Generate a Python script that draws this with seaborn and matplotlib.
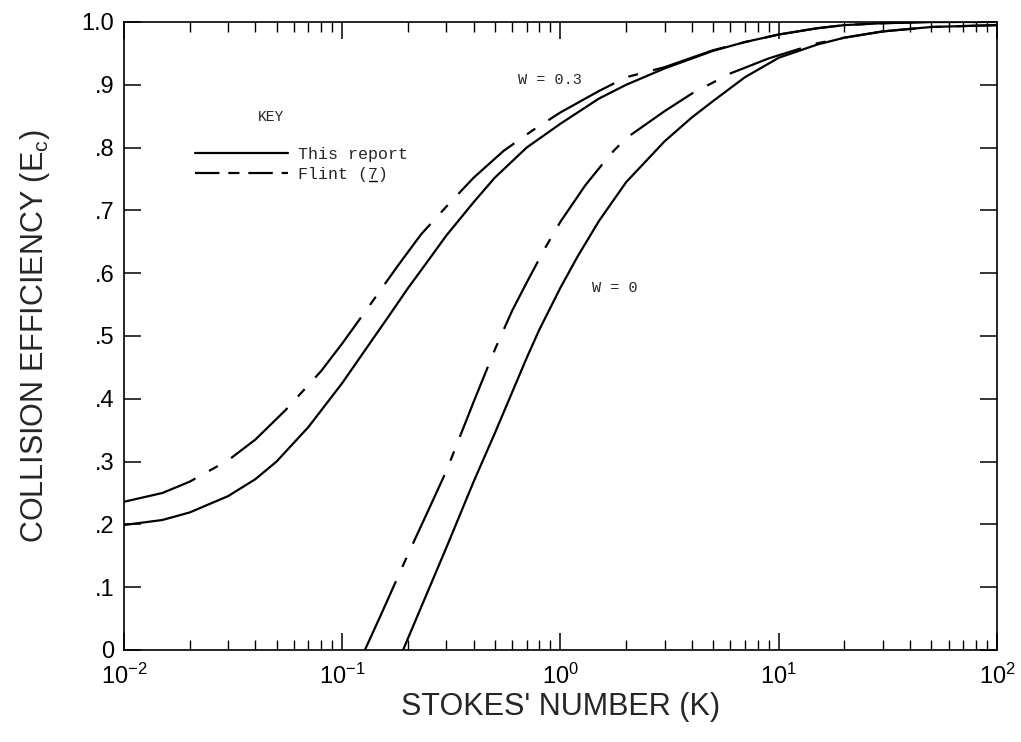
import seaborn as sns
from matplotlib import pyplot as plt
from matplotlib.lines import Line2D
from matplotlib.ticker import LogLocator, NullFormatter

# Collision efficiency vs Stokes' number
k_w03_report = [0.01, 0.015, 0.02, 0.03, 0.04, 0.05, 0.07, 0.1, 0.13, 0.16, 0.2, 0.25, 0.3,
                0.4, 0.5, 0.7, 1.0, 1.5, 2.0, 3.0, 5.0, 7.0, 10, 15, 20, 30, 50, 100]
e_w03_report = [0.199, 0.207, 0.219, 0.245, 0.272, 0.300, 0.355, 0.425, 0.482, 0.527, 0.576,
                0.622, 0.660, 0.713, 0.752, 0.800, 0.838, 0.878, 0.900, 0.926, 0.954, 0.968,
                0.980, 0.990, 0.995, 0.998, 1.0, 1.0]

k_w03_flint = [0.01, 0.015, 0.02, 0.03, 0.04, 0.055, 0.08, 0.1, 0.13, 0.18, 0.23, 0.3, 0.4,
               0.55, 0.75, 1.0, 1.5, 2.0, 3.0, 5.0, 7.0, 10, 15, 20, 30, 50, 100]
e_w03_flint = [0.236, 0.250, 0.268, 0.302, 0.335, 0.382, 0.444, 0.488, 0.543, 0.612, 0.662,
               0.706, 0.752, 0.795, 0.828, 0.856, 0.890, 0.912, 0.928, 0.955, 0.968, 0.980,
               0.990, 0.995, 0.998, 1.0, 1.0]

k_w0_report = [0.19, 0.25, 0.3, 0.4, 0.5, 0.6, 0.7, 0.8, 1.0, 1.2, 1.5, 2.0, 3.0, 4.0, 5.0,
               7.0, 10, 15, 20, 30, 50, 100]
e_w0_report = [0.0, 0.098, 0.163, 0.268, 0.345, 0.41, 0.465, 0.51, 0.577, 0.627, 0.683, 0.745,
               0.810, 0.848, 0.874, 0.912, 0.943, 0.964, 0.975, 0.985, 0.992, 0.995]

k_w0_flint = [0.127, 0.15, 0.2, 0.25, 0.3, 0.4, 0.5, 0.6, 0.7, 0.85, 1.0, 1.3, 1.7, 2.0, 3.0,
              4.0, 6.0, 9.0, 15, 20, 30, 50, 100]
e_w0_flint = [0.0, 0.055, 0.152, 0.225, 0.285, 0.395, 0.478, 0.54, 0.585, 0.64, 0.682, 0.74,
              0.79, 0.815, 0.858, 0.886, 0.918, 0.942, 0.966, 0.975, 0.985, 0.992, 0.995]

y_ticks = [0, 0.1, 0.2, 0.3, 0.4, 0.5, 0.6, 0.7, 0.8, 0.9, 1.0]
y_ticklabels = ["0", ".1", ".2", ".3", ".4", ".5", ".6", ".7", ".8", ".9", "1.0"]

sns.set_style("ticks")
plt.rcParams["font.family"] = ["Liberation Sans", "DejaVu Sans"]
plt.rcParams["mathtext.fontset"] = "custom"
plt.rcParams["mathtext.rm"] = "Liberation Sans"
plt.rcParams["mathtext.it"] = "Liberation Sans"

fig = plt.figure(figsize=(10.21, 7.42), dpi=100)
ax = fig.add_axes([0.1214, 0.124, 0.8551, 0.8464])

flint_dash = (0, (34, 7, 4.5, 7))
lw = 1.6

sns.lineplot(x=k_w03_report, y=e_w03_report, ax=ax, color="black", lw=lw, label="This report")
sns.lineplot(x=k_w03_flint, y=e_w03_flint, ax=ax, color="black", lw=lw, linestyle=flint_dash,
             label="Flint (7)")
sns.lineplot(x=k_w0_report, y=e_w0_report, ax=ax, color="black", lw=lw)
sns.lineplot(x=k_w0_flint, y=e_w0_flint, ax=ax, color="black", lw=lw, linestyle=flint_dash)

ax.set_xscale("log")
ax.set_xlim(1e-2, 1e2)
ax.set_ylim(0, 1.0)

ax.xaxis.set_major_locator(LogLocator(base=10, numticks=10))
ax.xaxis.set_minor_locator(LogLocator(base=10, subs=range(2, 10), numticks=100))
ax.xaxis.set_minor_formatter(NullFormatter())
ax.set_yticks(y_ticks)
ax.set_yticklabels(y_ticklabels)

ax.tick_params(which="both", direction="in", top=True, right=True, colors="black", labelsize=17)
ax.tick_params(which="major", length=12, width=1.1)
ax.tick_params(axis="x", which="major", pad=10)
ax.tick_params(axis="y", which="major", pad=7)
ax.tick_params(which="minor", length=7, width=1.0)
for sp in ax.spines.values():
    sp.set_linewidth(1.2)
    sp.set_color("black")

ax.set_xlabel("STOKES' NUMBER (K)", fontsize=22, labelpad=2)
ax.set_ylabel("COLLISION EFFICIENCY (E$_\\mathregular{c}$)", fontsize=22, labelpad=21)

mono = "Liberation Mono"
ax.text(0.637, 0.908, "W = 0.3", fontsize=11, family=mono, va="center", ha="left")
ax.text(1.40, 0.576, "W = 0", fontsize=11, family=mono, va="center", ha="left")
ax.text(0.0412, 0.849, "KEY", fontsize=10.5, family=mono, va="center", ha="left")

leg = ax.legend(loc="upper left", bbox_to_anchor=(0.081, 0.801), frameon=False,
                prop={"family": mono, "size": 12}, handlelength=5.6, handletextpad=0.6,
                labelspacing=0.32, borderaxespad=0, borderpad=0)
leg.get_lines()[1].set_linestyle((0, (11, 4, 5, 4)))

# underline the reference number in "Flint (7)"
fig.canvas.draw()
txt = leg.get_texts()[1]
bb = txt.get_window_extent()
cw = bb.width / len(txt.get_text())
x0 = bb.x0 + 7 * cw
fig.add_artist(Line2D([(x0 + 1) / fig.bbox.width, (x0 + cw - 1) / fig.bbox.width],
                      [(bb.y0 + 1) / fig.bbox.height] * 2, color="black", lw=1.0))

fig.savefig("out.png", dpi=100)
